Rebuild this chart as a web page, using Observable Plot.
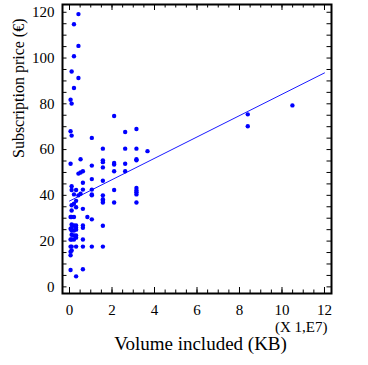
<!DOCTYPE html>
<html><head><meta charset="utf-8">
<script src="https://cdn.jsdelivr.net/npm/d3@7"></script>
<script src="https://cdn.jsdelivr.net/npm/@observablehq/plot@0.6"></script>
<style>body{margin:0;background:#fff} svg text{font-family:'Liberation Serif','Times New Roman',serif !important;}</style>
</head><body><div id="chart"></div>
<script>
// Volume included (units of 1e7 KB) and subscription price (€)
const volume = [
  0.42, 0.21, 0.42, 0.21, 0.1, 0.42, 0.21, 0.05, 0.1, 2.1,
  0.05, 0.1, 1.05, 2.62, 3.15, 1.57, 2.62, 3.15, 3.67, 0.05,
  0.52, 1.57, 1.57, 2.1, 2.1, 2.62, 3.15, 3.15, 1.05, 1.57,
  2.1, 2.62, 0.42, 0.52, 0.63, 1.05, 1.57, 0.63, 0.1, 1.05,
  2.1, 3.15, 3.15, 3.15, 3.15, 0.1, 0.31, 0.63, 0.21, 0.52,
  0.42, 1.05, 1.05, 1.57, 1.57, 1.57, 1.57, 2.1, 3.15, 0.31,
  0.1, 0.21, 0.31, 0.1, 0.63, 0.05, 0.1, 0.21, 0.84, 1.05,
  0.1, 0.21, 0.31, 0.31, 0.1, 0.63, 0.63, 1.57, 0.05, 0.1,
  0.21, 0.31, 0.1, 0.21, 0.31, 0.05, 0.1, 0.21, 0.31, 0.63,
  0.05, 0.1, 0.31, 0.63, 1.05, 1.57, 0.1, 0.05, 0.05, 0.05,
  0.63, 0.31, 8.39, 8.39, 10.49
];
const price = [
  119.2, 114.8, 105.3, 100.8, 94.1, 91.3, 86.9, 81.8, 80.1, 74.7,
  68.0, 66.1, 65.1, 67.7, 69.0, 60.4, 60.4, 60.4, 59.3, 53.8,
  55.8, 55.3, 54.5, 54.1, 53.5, 53.8, 55.8, 55.3, 53.0, 52.2,
  50.5, 50.5, 49.5, 50.0, 50.5, 47.1, 46.4, 45.5, 44.0, 42.5,
  42.3, 43.2, 42.1, 41.3, 40.4, 42.3, 42.3, 42.5, 40.4, 40.7,
  40.0, 40.4, 40.0, 40.0, 38.3, 37.6, 36.9, 36.9, 36.9, 37.6,
  35.7, 36.3, 34.8, 33.4, 34.1, 30.5, 30.5, 30.5, 30.5, 29.5,
  27.3, 26.8, 26.8, 25.8, 25.8, 26.8, 25.8, 26.7, 25.4, 24.6,
  24.6, 25.0, 22.8, 22.5, 22.5, 20.7, 20.7, 20.7, 21.5, 20.7,
  17.6, 17.6, 17.6, 17.6, 17.6, 17.6, 15.9, 15.4, 13.8, 7.4,
  7.7, 4.6, 75.4, 70.2, 79.3
];
// fitted trend line end points
const fitVolume = [0, 12];
const fitPrice = [37.5, 93.5];

const xTickLabels = [0, 2, 4, 6, 8, 10, 12];
const yTickLabels = [0, 20, 40, 60, 80, 100, 120];
const xMinorTicks = d3.range(0, 12.01, 0.5);
const yMinorTicks = d3.range(0, 121, 5);

const points = volume.map((v, i) => ({v, p: price[i]}));
const fit = fitVolume.map((v, i) => ({v, p: fitPrice[i]}));

const W = 368, H = 365, mL = 62, mR = 37, mT = 4, mB = 72;
const innerW = W - mL - mR, innerH = H - mT - mB;
const major = 6, minor = 3.5;
const serif = "'Liberation Serif', 'Times New Roman', serif";

const chart = Plot.plot({
  width: W, height: H,
  marginLeft: mL, marginRight: mR, marginTop: mT, marginBottom: mB,
  style: {fontFamily: serif, fontSize: "15px", color: "black", background: "white"},
  x: {domain: [-0.33, 12.33]},
  y: {domain: [-2.9, 123.4]},
  marks: [
    // inward ticks on all four sides
    Plot.ruleX(xMinorTicks, {x: d => d, insetTop: innerH - minor, stroke: "black", strokeWidth: 1}),
    Plot.ruleX(xMinorTicks, {x: d => d, insetBottom: innerH - minor, stroke: "black", strokeWidth: 1}),
    Plot.ruleX(xTickLabels, {x: d => d, insetTop: innerH - major, stroke: "black", strokeWidth: 1}),
    Plot.ruleX(xTickLabels, {x: d => d, insetBottom: innerH - major, stroke: "black", strokeWidth: 1}),
    Plot.ruleY(yMinorTicks, {y: d => d, insetRight: innerW - 4.5, stroke: "black", strokeWidth: 1}),
    Plot.ruleY(yMinorTicks, {y: d => d, insetLeft: innerW - 4.5, stroke: "black", strokeWidth: 1}),
    Plot.axisX({ticks: xTickLabels, tickSize: 0, tickPadding: 10.5, label: null, fontSize: 15, fontFamily: serif, tickFormat: d => String(d)}),
    Plot.axisY({ticks: yTickLabels, tickSize: 0, tickPadding: 8, label: null, fontSize: 15, fontFamily: serif, tickFormat: d => String(d)}),
    Plot.line(fit, {x: "v", y: "p", stroke: "#1a1aff", strokeWidth: 1}),
    Plot.dot(points, {x: "v", y: "p", r: 2.2, fill: "#0000ff", stroke: "none"}),
    Plot.frame({stroke: "black", strokeWidth: 2}),
    Plot.text(["Subscription price (€)"], {text: d => d, frameAnchor: "left", rotate: -90, dx: -44, dy: 9, fontSize: 16, fontFamily: serif}),
    Plot.text(["Volume included (KB)"], {text: d => d, frameAnchor: "bottom", dx: 3.5, dy: 56, fontSize: 19, fontFamily: serif}),
    Plot.text(["(X 1,E7)"], {text: d => d, frameAnchor: "bottom-right", dx: -4, dy: 38.5, fontSize: 15, fontFamily: serif})
  ]
});
document.getElementById("chart").appendChild(chart);
</script>
</body></html>
